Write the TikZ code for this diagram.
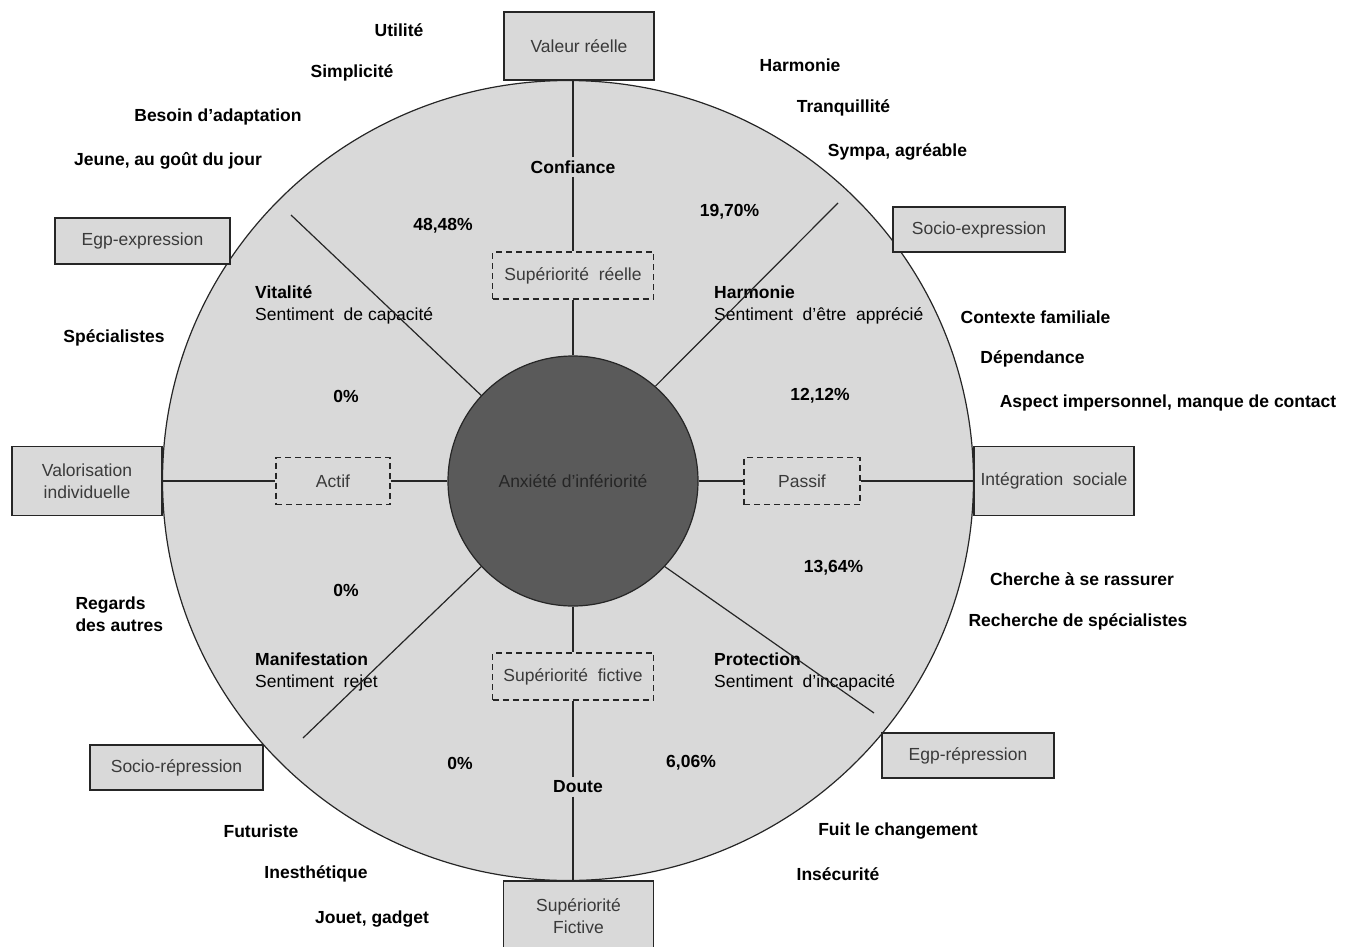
\documentclass[tikz,border=0pt]{standalone}
\usepackage{fontspec}
\setmainfont{Liberation Sans}
\definecolor{pale}{HTML}{D9D9D9}
\definecolor{core}{HTML}{5A5A5A}
\definecolor{ink}{HTML}{262626}
\definecolor{boxink}{HTML}{3A3A3A}

\begin{document}
\begin{tikzpicture}[x=1pt, y=-1pt]
\tikzstyle{every node}=[font=\fontsize{17.5}{22}\selectfont]
\tikzstyle{frame}=[draw=ink, fill=pale, line width=1.3pt, text=boxink, align=center, inner sep=0pt]
\tikzstyle{dashframe}=[draw=ink, dash pattern=on 6pt off 4pt, line width=1.1pt, text=boxink, minimum height=47pt, inner sep=0pt]
\tikzstyle{word}=[font=\fontsize{17.5}{22}\selectfont\bfseries, text=black]
\tikzstyle{feeling}=[align=left, anchor=west, inner sep=0pt, text=black]
\tikzstyle{wire}=[draw=ink, line width=1.2pt]

\useasboundingbox (0,0) rectangle (1361,946);
\draw[draw=ink, fill=pale, line width=1.2pt] (568,480.5) ellipse [x radius=405.5pt, y radius=400pt];

\draw (573,481) node[circle, draw=ink, fill=core, line width=1.2pt, minimum size=250pt, inner sep=0pt, text=ink] (inner) {Anxiété d’infériorité};

\draw (579,46) node[frame, minimum width=150pt, minimum height=68pt] (valeur) {Valeur réelle};
\draw (578.5,916) node[frame, minimum width=150pt, minimum height=70pt] (fictive) {Supériorité\\Fictive};
\draw (87,481) node[frame, minimum width=150pt, minimum height=69pt] (valor) {Valorisation\\individuelle};
\draw (1054,481) node[frame, minimum width=160pt, minimum height=69pt] (integ) {Intégration~ sociale};
\draw (142.5,241) node[frame, minimum width=175pt, minimum height=46pt] (egpexp) {Egp-expression};
\draw (979,229.5) node[frame, minimum width=172pt, minimum height=45pt] (socioexp) {Socio-expression};
\draw (176.5,767.5) node[frame, minimum width=173pt, minimum height=45pt] (sociorep) {Socio-répression};
\draw (968,755.5) node[frame, minimum width=172pt, minimum height=45pt] (egprep) {Egp-répression};

\draw (573,275.5) node[dashframe, minimum width=161pt] (supreel) {Supériorité~ réelle};
\draw (573,676.5) node[dashframe, minimum width=161pt] (supfict) {Supériorité~ fictive};
\draw (333,481) node[dashframe, minimum width=114pt] (actif) {Actif};
\draw (802,481) node[dashframe, minimum width=116pt] (passif) {Passif};

\draw (573,167) node[word] (confiance) {Confiance};
\draw (578,787) node[word] (doute) {Doute};

\draw (443,226) node[word] (pctvit) {48,48\%};
\draw (729.5,212) node[word] (pctharm) {19,70\%};
\draw (346,396) node[word] (pctactup) {0\%};
\draw (820,396) node[word] (pctpasup) {12,12\%};
\draw (346,590) node[word] (pctactdn) {0\%};
\draw (833.5,568) node[word] (pctpasdn) {13,64\%};
\draw (460,763) node[word] (pctmanif) {0\%};
\draw (691,763) node[word] (pctprot) {6,06\%};

\draw (255,305) node[feeling] (vitalite) {\textbf{Vitalité}\\Sentiment~ de capacité};
\draw (714,305) node[feeling] (harmonie) {\textbf{Harmonie}\\Sentiment~ d’être~ apprécié};
\draw (255,672) node[feeling] (manif) {\textbf{Manifestation}\\Sentiment~ rejet};
\draw (714,672) node[feeling] (protect) {\textbf{Protection}\\Sentiment~ d’incapacité};

\draw (399,30) node[word] (utilite) {Utilité};
\draw (352,73) node[word] (simple) {Simplicité};
\draw (218,117) node[word] (besoin) {Besoin d’adaptation};
\draw (168,161) node[word] (jeune) {Jeune, au goût du jour};
\draw (114,338) node[word] (special) {Spécialistes};
\draw (72,614) node[word, align=left, anchor=west] (regards) {Regards\\des autres};
\draw (261,831) node[word] (futur) {Futuriste};
\draw (316,874) node[word] (inesth) {Inesthétique};
\draw (372,919) node[word] (jouet) {Jouet, gadget};

\draw (800,65) node[word] (harmword) {Harmonie};
\draw (843.5,108) node[word] (tranq) {Tranquillité};
\draw (897.5,152) node[word] (sympa) {Sympa, agréable};
\draw (1035.5,317) node[word] (contexte) {Contexte familiale};
\draw (1032.5,359) node[word] (depend) {Dépendance};
\draw (1168,403) node[word] (aspect) {Aspect impersonnel, manque de contact};
\draw (1082,579) node[word] (cherche) {Cherche à se rassurer};
\draw (1078,622) node[word] (recherche) {Recherche de spécialistes};
\draw (898,831) node[word] (fuit) {Fuit le changement};
\draw (838,874) node[word] (insec) {Insécurité};

\coordinate (ul) at (291,215);
\coordinate (ur) at (838,203);
\coordinate (ll) at (303,738);
\coordinate (lr) at (874,713);

\draw[wire] (confiance.north) -- (confiance.north |- valeur.south);
\draw[wire] (confiance) -- (supreel);
\draw[wire] (supreel) -- (inner);
\draw[wire] (inner) -- (supfict);
\draw[wire] (supfict) -- (supfict |- doute.north);
\draw[wire] (doute.south -| supfict) -- (fictive.north -| supfict);
\draw[wire] (valor) -- (actif);
\draw[wire] (actif) -- (inner);
\draw[wire] (inner) -- (passif);
\draw[wire] (passif) -- (integ);
\draw[wire] (ul) -- (inner.137);
\draw[wire] (ur) -- (inner.49);
\draw[wire] (ll) -- (inner.223);
\draw[wire] (lr) -- (inner.-43);
\end{tikzpicture}
\end{document}
